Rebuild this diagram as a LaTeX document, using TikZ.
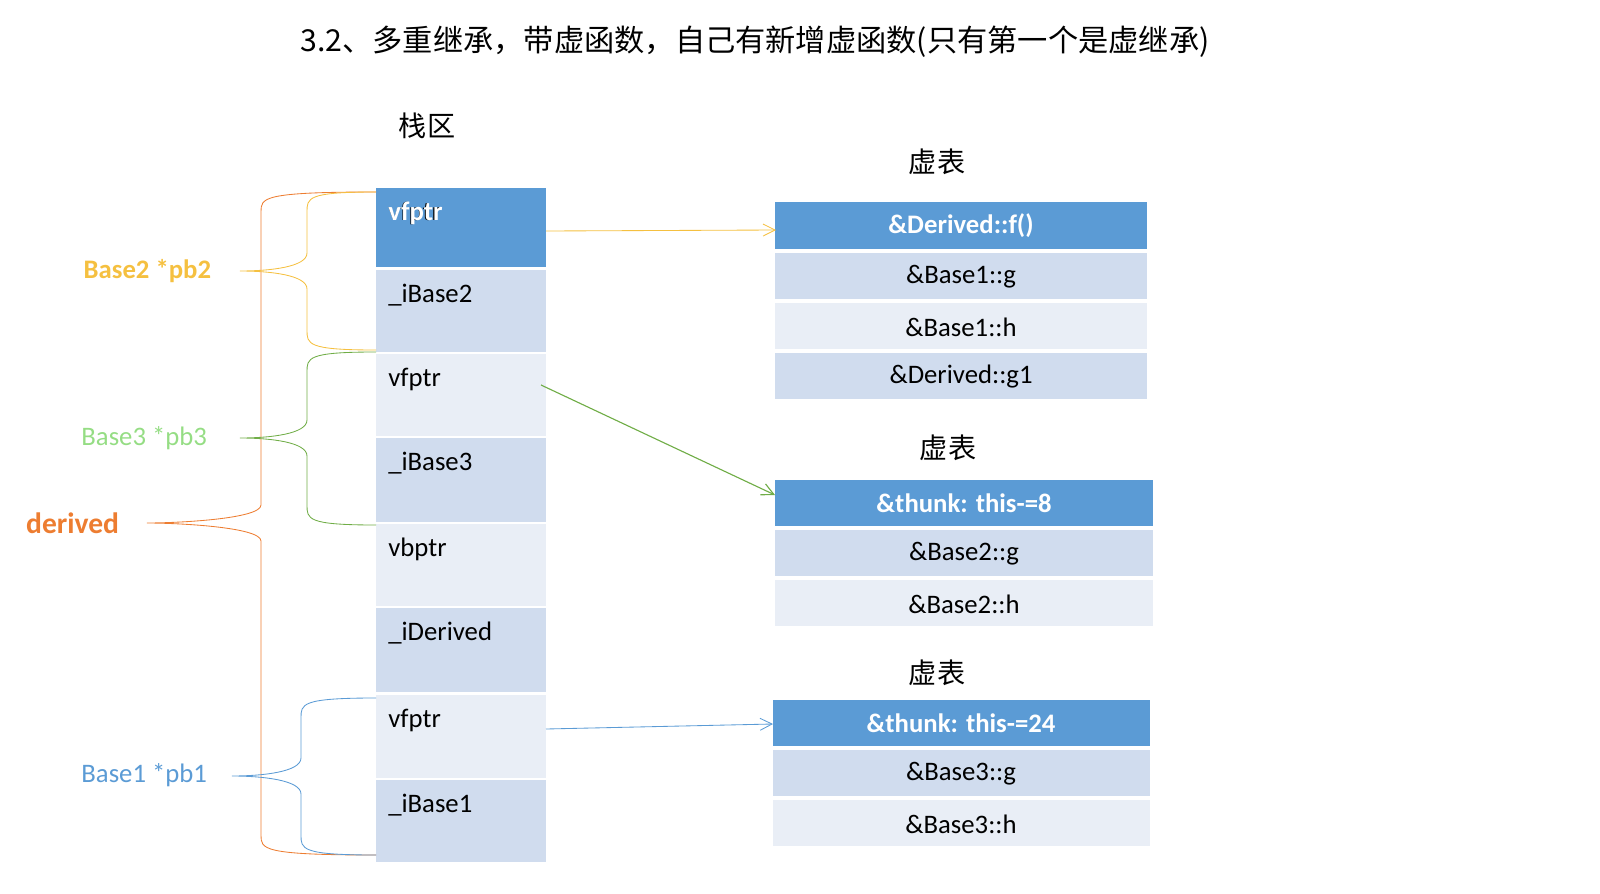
\documentclass[tikz,border=0pt]{standalone}
\usepackage{fontspec}
\setmainfont{Carlito}
\newfontfamily\cjk{Noto Sans CJK SC}
\usetikzlibrary{positioning,arrows.meta}
\definecolor{hdr}{HTML}{5B9BD5}
\definecolor{rowa}{HTML}{D0DCEE}
\definecolor{rowb}{HTML}{E9EEF6}
\definecolor{cyel}{HTML}{F5C040}
\definecolor{cgrn}{HTML}{70AD47}
\definecolor{corg}{HTML}{ED7D31}
\definecolor{cblu}{HTML}{5B9BD5}
\tikzset{
  cell/.style={inner sep=0pt, anchor=north west},
  lbl/.style={font=\fontsize{19}{21}\selectfont, anchor=north west, inner sep=0pt},
  ent/.style={font=\fontsize{19}{21}\selectfont, inner sep=0pt},
  ttl/.style={font=\cjk\fontsize{20}{24}\selectfont},
  ptr/.style={-{Straight Barb[length=3mm,width=3mm]}, semithick}
}
% brace: x, top, bottom, tipx, tipy, colour
\newcommand{\brc}[6]{%
  \draw[#6, semithick] (376,#2) .. controls (#1,#2) and (#1,#2+6) .. (#1,#2+20)
    -- (#1,#5-18) .. controls (#1,#5-4) and (#4+30,#5) .. (#4,#5)
    .. controls (#4+30,#5) and (#1,#5+4) .. (#1,#5+18)
    -- (#1,#3-20) .. controls (#1,#3-6) and (#1,#3) .. (376,#3);}
\begin{document}
\begin{tikzpicture}[x=0.025cm,y=-0.025cm]
\useasboundingbox (0,0) rectangle (1600,894);
\node[font=\cjk\fontsize{21.5}{26}\selectfont] (title) at (755,42) {3.2、多重继承，带虚函数，自己有新增虚函数(只有第一个是虚继承)};
\node[ttl] (stk) at (427,126) {栈区};
% stack
\foreach \t/\b/\c/\s/\n in {188/267/hdr/vfptr/s1, 270/352/rowa/\_iBase2/s2, 354/436/rowb/vfptr/s3,
  438/522/rowa/\_iBase3/s4, 524/606/rowb/vbptr/s5, 608/692/rowa/\_iDerived/s6,
  695/778/rowb/vfptr/s7, 780/862/rowa/\_iBase1/s8} {
  \fill[\c] (376,\t) rectangle (546,\b);
  \node[lbl] (\n) at (388,\t+14) {\s};
}
\node[lbl, text=white, font=\bfseries\fontsize{19}{21}\selectfont] at (388,202) {vfptr};
% table 1
\node[ttl] (vt1) at (937,162) {虚表};
\fill[hdr] (775,202) rectangle (1147,249);
\node[ent, text=white, font=\bfseries\fontsize{19}{21}\selectfont] (a1) at (961,226) {\&Derived::f()};
\fill[rowa] (775,253) rectangle (1147,299);
\node[ent] (a2) at (961,277) {\&Base1::g};
\fill[rowb] (775,303) rectangle (1147,349);
\node[ent] (a3) at (961,327) {\&Base1::h};
\fill[rowa] (775,353) rectangle (1147,399);
\node[ent] (a4) at (961,377) {\&Derived::g1};
% table 2
\node[ttl] (vt2) at (948,448) {虚表};
\fill[hdr] (775,480) rectangle (1153,526);
\node[ent, text=white, font=\bfseries\fontsize{19}{21}\selectfont] (b1) at (964,503) {\&thunk: this-=8};
\fill[rowa] (775,530) rectangle (1153,576);
\node[ent] (b2) at (964,554) {\&Base2::g};
\fill[rowb] (775,580) rectangle (1153,626);
\node[ent] (b3) at (964,604) {\&Base2::h};
% table 3
\node[ttl] (vt3) at (937,673) {虚表};
\fill[hdr] (773,700) rectangle (1150,746);
\node[ent, text=white, font=\bfseries\fontsize{19}{21}\selectfont] (c1) at (961,723) {\&thunk: this-=24};
\fill[rowa] (773,750) rectangle (1150,796);
\node[ent] (c2) at (961,774) {\&Base3::g};
\fill[rowb] (773,800) rectangle (1150,846);
\node[ent] (c3) at (961,824) {\&Base3::h};
% pointers
\coordinate (p1) at (546,231); \coordinate (q1) at (776,230);
\coordinate (p2) at (541,385); \coordinate (q2) at (775,495);
\coordinate (p3) at (546,729); \coordinate (q3) at (773,724);
\draw[ptr, cyel] (p1) -- (q1);
\draw[ptr, cgrn, thick] (p2) -- (q2);
\draw[ptr, cblu] (p3) -- (q3);
% braces
\brc{261}{192}{855}{147}{523}{corg}
\brc{307}{192}{350}{240}{271}{cyel}
\brc{307}{352}{525}{240}{438}{cgrn}
\brc{301}{698}{855}{232}{776}{cblu}
\node[font=\bfseries\fontsize{19}{21}\selectfont, text=cyel, anchor=east] (pb2) at (216,271) {Base2 *pb2};
\node[font=\fontsize{19}{21}\selectfont, text=cgrn!70!green!60!white, anchor=east] (pb3) at (212,438) {Base3 *pb3};
\node[font=\bfseries\fontsize{21}{22}\selectfont, text=corg, anchor=east] (der) at (124,523) {derived};
\node[font=\fontsize{19}{21}\selectfont, text=cblu, anchor=east] (pb1) at (212,775) {Base1 *pb1};
\end{tikzpicture}
\end{document}
